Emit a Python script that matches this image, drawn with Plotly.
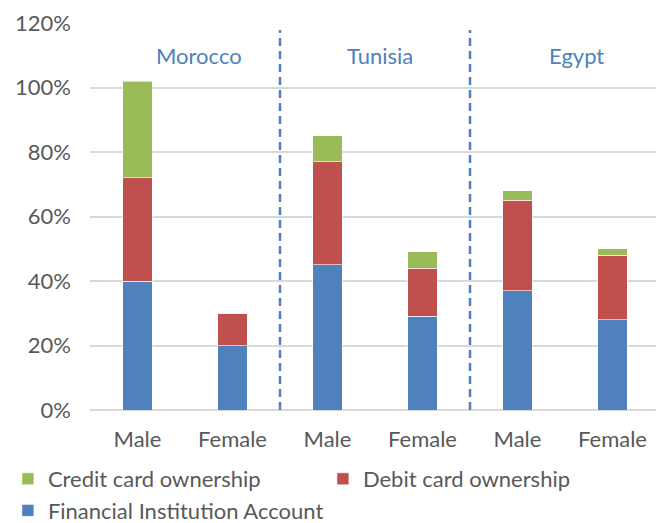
import plotly.graph_objects as go

# du lieu doc tu hinh (%)
categories = ["Male", "Female", "Male", "Female", "Male", "Female"]
countries = ["Morocco", "Tunisia", "Egypt"]
fia = [40, 20, 45, 29, 37, 28]      # Financial Institution Account
debit = [32, 10, 32, 15, 28, 20]    # Debit card ownership
credit = [30, 0, 8, 5, 3, 2]        # Credit card ownership
y_ticks = [0, 20, 40, 60, 80, 100, 120]

GREY = "#595959"
BLUE_TXT = "#4F81BD"
FS = 22
xpos = list(range(len(categories)))

fig = go.Figure()
for name, vals, col in [
    ("Financial Institution Account", fia, "#4F81BD"),
    ("Debit card ownership", debit, "#C0504D"),
    ("Credit card ownership", credit, "#9BBB59"),
]:
    fig.add_trace(go.Bar(x=xpos, y=vals, name=name, marker_color=col,
                         marker_line=dict(color="white", width=0.6), width=0.31))

# duong phan cach giua cac nuoc
for xd in [1.5, 3.5]:
    fig.add_shape(type="line", x0=xd, x1=xd, y0=0, y1=117.8, xref="x", yref="y",
                  line=dict(color=BLUE_TXT, width=2.5, dash="8px,5px"))

# ten nuoc
for cx, name in zip([0.65, 2.55, 4.62], countries):
    fig.add_annotation(x=cx, y=110, text=name, showarrow=False, xref="x", yref="y",
                       font=dict(size=FS, color=BLUE_TXT, family="Lato"))

# trang co le 8px nen giam kich thuoc hinh
fig.update_layout(
    barmode="stack",
    width=656, height=515,
    margin=dict(l=82, r=4, t=15, b=113, autoexpand=False),
    plot_bgcolor="white", paper_bgcolor="white",
    font=dict(family="Lato", size=FS, color=GREY),
    xaxis=dict(tickvals=xpos, ticktext=categories, range=[-0.5, 5.5],
               showgrid=False, showline=False, ticks="", ticklabelstandoff=14,
               tickfont=dict(size=FS, color=GREY)),
    yaxis=dict(range=[0, 120], tickvals=y_ticks, ticktext=[f"{v}%" for v in y_ticks],
               showgrid=True, gridcolor="#D9D9D9", gridwidth=1.5, zeroline=True,
               zerolinecolor="#D9D9D9", zerolinewidth=1.5, ticks="", ticklabelstandoff=18,
               tickfont=dict(size=FS, color=GREY)),
    legend=dict(orientation="h", traceorder="reversed",
                x=-0.144, y=-0.124, xanchor="left", yanchor="top",
                entrywidth=270, entrywidthmode="pixels",
                font=dict(size=FS, color=GREY)),
    bargap=0.69,
)

fig.write_html("out.html")
